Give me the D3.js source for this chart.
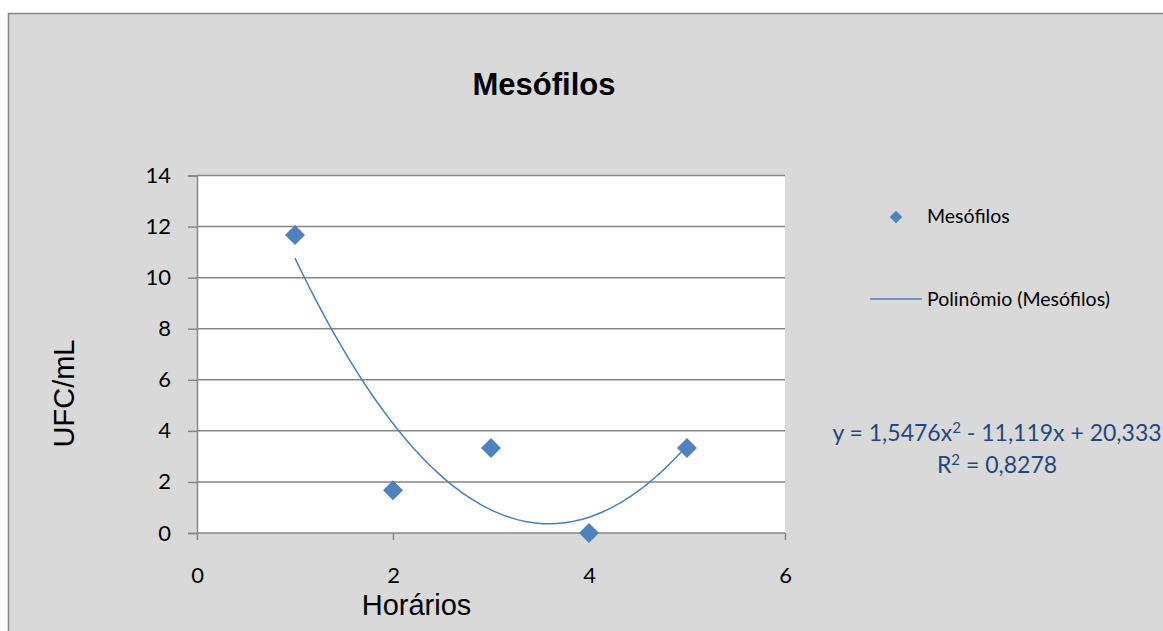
<!DOCTYPE html>
<html>
<head>
<meta charset="utf-8">
<script src="https://cdn.jsdelivr.net/npm/d3@7"></script>
<style>
  html, body { margin: 0; padding: 0; background: #fff; }
  svg { display: block; }
</style>
</head>
<body>
<svg id="chart"></svg>
<script>
// data
const horarios = [1, 2, 3, 4, 5];
const ufc = [11.67, 1.67, 3.33, 0, 3.33];
const xTicks = [0, 2, 4, 6];
const yTicks = [0, 2, 4, 6, 8, 10, 12, 14];
// trendline coefficients as printed on the chart (a x^2 + b x + c)
const trendCoef = [1.5476, -11.119, 20.333];
const trendLabel = ['y = 1,5476x', '2', ' - 11,119x + 20,333'];
const r2Label = ['R', '2', ' = 0,8278'];

const W = 1163, H = 631;
const plot = { left: 197, top: 175.5, right: 785, bottom: 533 };
const markerColor = '#4f81bd';
const lineColor = '#4a7ebb';
const gridColor = '#868686';
const numFont = 'Lato, "Open Sans", sans-serif';
const arial = '"Liberation Sans", Arial, sans-serif';

const svg = d3.select('#chart').attr('width', W).attr('height', H);

// chart area
svg.append('rect')
  .attr('x', 8.5).attr('y', 13.5)
  .attr('width', W).attr('height', H)
  .attr('fill', '#d9d9d9')
  .attr('stroke', gridColor)
  .attr('stroke-width', 1.5);

const x = d3.scaleLinear().domain([0, 6]).range([plot.left, plot.right]);
const y = d3.scaleLinear().domain([0, 14]).range([plot.bottom, plot.top]);

// plot area
svg.append('rect')
  .attr('x', plot.left).attr('y', plot.top)
  .attr('width', plot.right - plot.left).attr('height', plot.bottom - plot.top)
  .attr('fill', '#fff');

// horizontal gridlines + y ticks
const yAxis = svg.append('g')
  .attr('transform', `translate(${plot.left},0)`)
  .call(d3.axisLeft(y).tickValues(yTicks).tickSize(9).tickPadding(17).tickFormat(d3.format('d')));
yAxis.select('.domain').attr('stroke', gridColor).attr('stroke-width', 1.5);
yAxis.selectAll('.tick line').attr('stroke', gridColor).attr('stroke-width', 1.5);
yAxis.selectAll('.tick text').attr('fill', '#000').style('font-family', numFont).style('font-size', '22px');

svg.append('g').selectAll('line')
  .data(yTicks.filter(d => d > 0))
  .join('line')
  .attr('x1', plot.left).attr('x2', plot.right)
  .attr('y1', d => y(d)).attr('y2', d => y(d))
  .attr('stroke', gridColor).attr('stroke-width', 1.5);

// x axis
const xAxis = svg.append('g')
  .attr('transform', `translate(0,${plot.bottom})`)
  .call(d3.axisBottom(x).tickValues(xTicks).tickSize(7).tickPadding(27).tickFormat(d3.format('d')));
xAxis.select('.domain').remove();
svg.append('line')
  .attr('x1', plot.left).attr('x2', plot.right)
  .attr('y1', plot.bottom).attr('y2', plot.bottom)
  .attr('stroke', gridColor).attr('stroke-width', 1.5);
xAxis.selectAll('.tick line').attr('stroke', gridColor).attr('stroke-width', 1.5);
xAxis.selectAll('.tick text').attr('fill', '#000').style('font-family', numFont).style('font-size', '22px');

// trendline
const trend = d3.range(horarios[0], horarios[horarios.length - 1] + 0.001, 0.05)
  .map(v => [v, trendCoef[0] * v * v + trendCoef[1] * v + trendCoef[2]]);
svg.append('path')
  .datum(trend)
  .attr('d', d3.line().x(d => x(d[0])).y(d => y(d[1])).curve(d3.curveBasis))
  .attr('fill', 'none')
  .attr('stroke', lineColor)
  .attr('stroke-width', 1.5);

// markers
const diamond = d3.symbol().type(d3.symbolSquare).size(200);
svg.append('g').selectAll('path')
  .data(horarios.map((h, i) => [h, ufc[i]]))
  .join('path')
  .attr('d', diamond)
  .attr('transform', d => `translate(${x(d[0])},${y(d[1])}) rotate(45)`)
  .attr('fill', markerColor);

// title
svg.append('text')
  .attr('x', 544).attr('y', 95)
  .attr('text-anchor', 'middle')
  .style('font-family', arial).style('font-size', '31px').style('font-weight', 'bold')
  .text('Mesófilos');

// axis titles
svg.append('text')
  .attr('x', 416.5).attr('y', 615)
  .attr('text-anchor', 'middle')
  .style('font-family', arial).style('font-size', '29px')
  .text('Horários');

svg.append('text')
  .attr('transform', 'translate(74,393.5) rotate(-90)')
  .attr('text-anchor', 'middle')
  .style('font-family', arial).style('font-size', '29px')
  .text('UFC/mL');

// legend
const legend = svg.append('g');
legend.append('path')
  .attr('d', d3.symbol().type(d3.symbolSquare).size(80))
  .attr('transform', 'translate(896,217) rotate(45)')
  .attr('fill', markerColor);
legend.append('text')
  .attr('x', 927).attr('y', 223)
  .style('font-family', numFont).style('font-size', '19.5px')
  .text('Mesófilos');
legend.append('line')
  .attr('x1', 870).attr('x2', 922).attr('y1', 299).attr('y2', 299)
  .attr('stroke', lineColor).attr('stroke-width', 1.5);
legend.append('text')
  .attr('x', 927).attr('y', 306)
  .style('font-family', numFont).style('font-size', '19.5px')
  .text('Polinômio (Mesófilos)');

// trendline label
function supText(parts, yPos) {
  const t = svg.append('text')
    .attr('x', 997).attr('y', yPos)
    .attr('text-anchor', 'middle')
    .attr('fill', '#1f497d')
    .style('font-family', numFont).style('font-size', '23px');
  t.append('tspan').text(parts[0]);
  t.append('tspan').attr('dy', -8).style('font-size', '15px').text(parts[1]);
  t.append('tspan').attr('dy', 8).text(parts[2]);
}
supText(trendLabel, 441);
supText(r2Label, 473);
</script>
</body>
</html>
